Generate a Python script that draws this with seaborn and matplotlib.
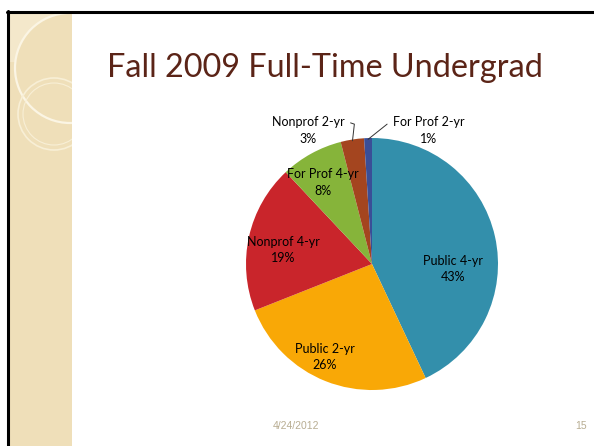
import numpy as np
import matplotlib
matplotlib.use("Agg")
import matplotlib.pyplot as plt
from matplotlib.patches import Rectangle, Circle
import seaborn as sns

sectors = ["Public 4-yr", "Public 2-yr", "Nonprof 4-yr", "For Prof 4-yr",
           "Nonprof 2-yr", "For Prof 2-yr"]
shares = [43, 26, 19, 8, 3, 1]
colors = ["#338fab", "#f9a806", "#c9252b", "#86b43a", "#a4451f", "#3a4e97"]
title = "Fall 2009 Full-Time Undergrad"
date_txt = "4/24/2012"
page_txt = "15"

sns.set_theme(style="white")
plt.rcParams["font.family"] = ["Lato", "DejaVu Sans"]

W, H = 594, 446
fig = plt.figure(figsize=(W / 100, H / 100), dpi=100)
fig.patch.set_facecolor("white")

# background layer in pixel coordinates (y grows downward)
bg = fig.add_axes([0, 0, 1, 1], zorder=0)
bg.set_xlim(0, W)
bg.set_ylim(H, 0)
bg.axis("off")

base = "#efdfb9"
strip = Rectangle((8, 12), 64, H, facecolor=base, edgecolor="none")
bg.add_patch(strip)
light = Rectangle((8, 12), 64, 50, facecolor="#f4e8cb", edgecolor="none")
bg.add_patch(light)
inner = Circle((70, 68), 55, facecolor=base, edgecolor="none")
bg.add_patch(inner)
inner.set_clip_path(strip)
arc = Circle((70, 68), 55, fill=False, edgecolor="#fbf5e4", lw=1.6)
bg.add_patch(arc)
arc.set_clip_path(strip)
for r, lw in [(36, 1.2), (31, 0.8)]:
    c = Circle((54, 114), r, fill=False, edgecolor="#f8efd6", lw=lw)
    bg.add_patch(c)
    c.set_clip_path(strip)
bg.plot([7, W], [12, 12], color="black", lw=2.2)
bg.plot([8, 8], [11, H], color="black", lw=2.2)

bg.text(107, 77, title, fontsize=23.3, color="#5b2417", va="baseline")
bg.text(296, 429, date_txt, fontsize=7.5, color="#b8ad92",
        ha="center", va="baseline", family=["Liberation Sans"])
bg.text(581, 429, page_txt, fontsize=7.5, color="#b8ad92",
        ha="center", va="baseline", family=["Liberation Sans"])

# pie centered at (372, 264), radius 126 px
cx, cy, R = 372, 264, 126
ax = fig.add_axes([(cx - R) / W, 1 - (cy + R) / H, 2 * R / W, 2 * R / H], zorder=1)
wedges, _ = ax.pie(shares, colors=colors, startangle=90, counterclock=False,
                   wedgeprops=dict(edgecolor="none"))
ax.set_xlim(-1, 1)
ax.set_ylim(-1, 1)
ax.set_aspect("equal")
ax.axis("off")

label_pos = [(0.643, -0.04), (-0.373, -0.74), (-0.706, 0.11),
             (-0.389, 0.645), (-0.508, 1.06), (0.452, 1.06)]
for name, val, (tx, ty) in zip(sectors, shares, label_pos):
    ax.text(tx, ty, f"{name}\n{val}%", ha="center", va="center",
            fontsize=9, color="black", linespacing=1.45, clip_on=False)

# leader lines for the two thin slices
for i, (sx, sy) in [(4, (-0.17, 1.12)), (5, (0.12, 1.11))]:
    w = wedges[i]
    mid = np.deg2rad((w.theta1 + w.theta2) / 2)
    ex, ey = np.cos(mid) * 0.99, np.sin(mid) * 0.99
    if i == 4:
        ax.plot([sx, sx + 0.03, ex], [sy, sy - 0.01, ey], color="#333333",
                lw=0.7, clip_on=False)
    else:
        ax.plot([sx, ex], [sy, ey], color="#333333", lw=0.7, clip_on=False)

fig.savefig("out.png", dpi=100)
